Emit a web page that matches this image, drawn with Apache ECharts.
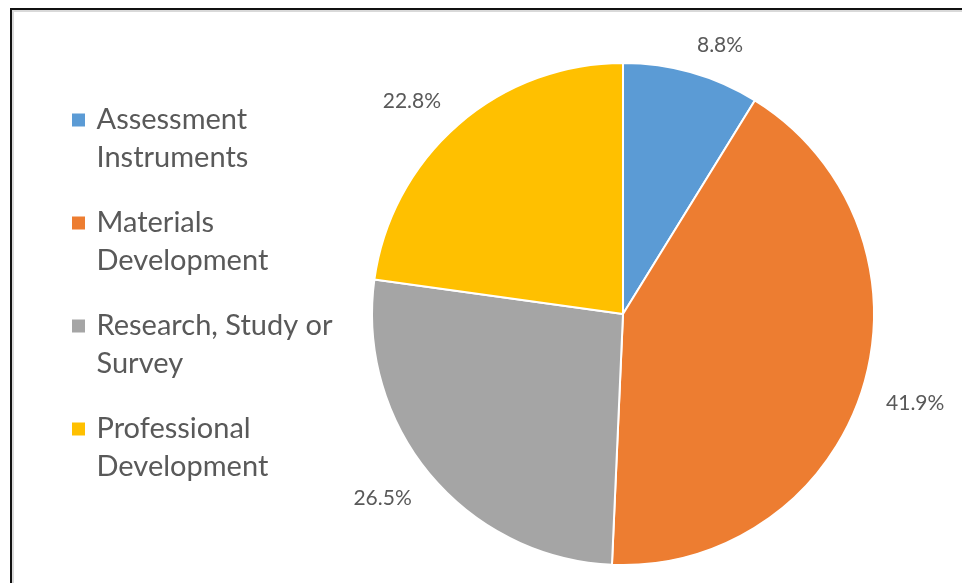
<!DOCTYPE html>
<html>
<head>
<meta charset="utf-8">
<script src="https://cdn.jsdelivr.net/npm/echarts@6/dist/echarts.min.js"></script>
<style>
html,body{margin:0;padding:0;background:#fff;}
#chart{position:absolute;left:0;top:0;width:962px;height:583px;}
#frame{position:absolute;left:10px;top:8px;width:1000px;height:700px;border-left:2px solid #111;border-top:2px solid #111;box-shadow:inset 2px 2px 0 #d9d9d9;pointer-events:none;}
</style>
</head>
<body>
<div id="chart"></div>
<div id="frame"></div>
<script>
const categories = ['Assessment Instruments', 'Materials Development', 'Research, Study or Survey', 'Professional Development'];
const legendLines = {
  'Assessment Instruments': ['Assessment', 'Instruments'],
  'Materials Development': ['Materials', 'Development'],
  'Research, Study or Survey': ['Research, Study or', 'Survey'],
  'Professional Development': ['Professional', 'Development']
};
const percentValues = [8.8, 41.9, 26.5, 22.8];
const colors = ['#5B9BD5', '#ED7D31', '#A5A5A5', '#FFC000'];

const labelNudges = [[-38, -8], [-34, 10], [35, 11], [34, -8]];

const chart = echarts.init(document.getElementById('chart'));
chart.setOption({
  animation: false,
  color: colors,
  legend: {
    orient: 'vertical',
    left: 65,
    top: 58,
    height: 520,
    itemWidth: 26,
    itemHeight: 15,
    itemGap: -11,
    icon: 'path://M0,0h10v10h-10z',
    symbolKeepAspect: true,
    data: categories,
    formatter: function (name) { return '\n' + legendLines[name].join('\n'); },
    textStyle: { fontFamily: 'Lato', fontSize: 29, color: '#595959', lineHeight: 38 }
  },
  series: [{
    type: 'pie',
    center: [623, 314],
    radius: [0, 251],
    startAngle: 90,
    clockwise: true,
    avoidLabelOverlap: false,
    itemStyle: { borderColor: '#fff', borderWidth: 2 },
    label: {
      show: true,
      position: 'outside',
      fontFamily: 'Lato',
      fontSize: 21,
      color: '#595959',
      distanceToLabelLine: 5,
      formatter: function (p) { return p.value.toFixed(1) + '%'; }
    },
    labelLine: { show: false, length: 20, length2: 33 },
    labelLayout: function (params) {
      const n = labelNudges[params.dataIndex];
      return { dx: n[0], dy: n[1] };
    },
    data: categories.map(function (c, i) { return { name: c, value: percentValues[i] }; })
  }]
});
</script>
</body>
</html>
